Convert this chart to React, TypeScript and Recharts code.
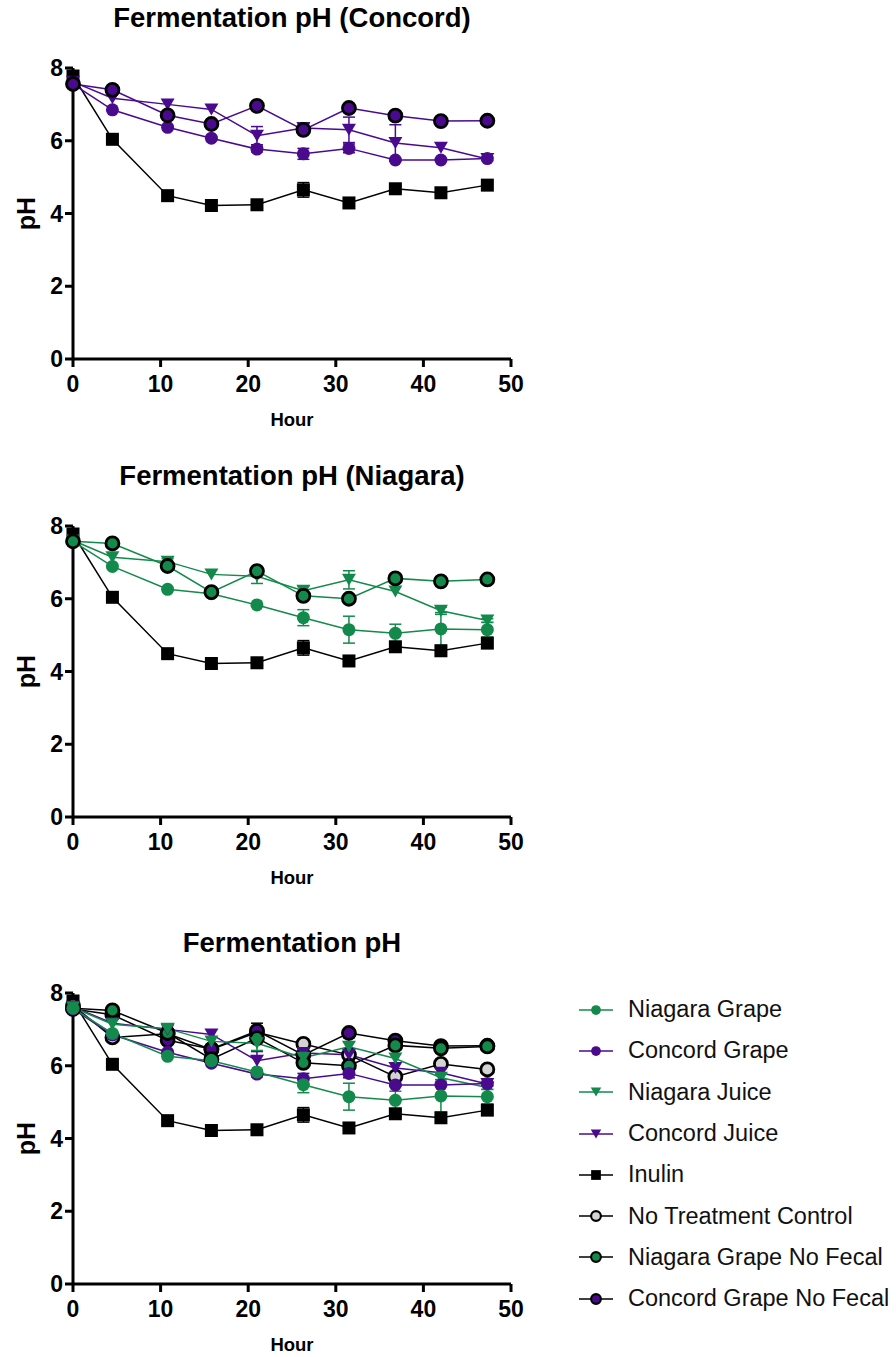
import React from "react";
import { LineChart, Line, XAxis, YAxis, ErrorBar, Legend } from "recharts";

// sampling times (hours)
const hours = [0, 4.5, 10.8, 15.8, 21, 26.3, 31.5, 36.8, 42, 47.3];

const niagaraGrape = [7.58, 6.89, 6.26, 6.14, 5.83, 5.48, 5.15, 5.05, 5.17, 5.15];
const niagaraGrapeErr = [0, 0, 0, 0, 0, 0.22, 0.37, 0.25, 0.45, 0.2];
const concordGrape = [7.56, 6.85, 6.37, 6.07, 5.77, 5.64, 5.79, 5.47, 5.47, 5.51];
const concordGrapeErr = [0, 0, 0, 0, 0.08, 0.15, 0.12, 0, 0, 0];
const niagaraJuice = [7.6, 7.14, 7.02, 6.67, 6.62, 6.22, 6.52, 6.2, 5.67, 5.4];
const niagaraJuiceErr = [0, 0, 0.08, 0, 0.2, 0.12, 0.25, 0, 0.1, 0.05];
const concordJuice = [7.62, 7.17, 7.0, 6.86, 6.14, 6.35, 6.3, 5.94, 5.81, 5.5];
const concordJuiceErr = [0, 0, 0, 0, 0.25, 0.12, 0.35, 0.5, 0, 0.05];
const inulin = [7.78, 6.04, 4.49, 4.22, 4.24, 4.65, 4.29, 4.68, 4.57, 4.78];
const inulinErr = [0, 0, 0, 0, 0.06, 0.2, 0, 0.08, 0, 0];
const noTreatment = [7.66, 6.78, 6.88, 6.45, 6.92, 6.6, 6.3, 5.7, 6.05, 5.9];
const noTreatmentErr = [0, 0, 0, 0, 0.25, 0, 0, 0, 0, 0];
const niagaraNoFecal = [7.58, 7.52, 6.9, 6.18, 6.76, 6.08, 6.0, 6.56, 6.48, 6.53];
const concordNoFecal = [7.56, 7.4, 6.7, 6.46, 6.96, 6.3, 6.9, 6.69, 6.54, 6.55];

const xTicks = [0, 10, 20, 30, 40, 50];
const yTicks = [0, 2, 4, 6, 8];

const GREEN = "#138a4b";
const PURPLE = "#4a0a8e";
const FONT = "'Liberation Sans', Arial, sans-serif";

type Marker = "circle" | "ringed" | "grey" | "square" | "triangle";

type Series = {
  key: string;
  name: string;
  values: number[];
  errors?: number[];
  color: string;
  fill: string;
  marker: Marker;
  blackLineInAll?: boolean;
};

const SERIES: Series[] = [
  { key: "ng", name: "Niagara Grape", values: niagaraGrape, errors: niagaraGrapeErr, color: GREEN, fill: GREEN, marker: "circle" },
  { key: "cg", name: "Concord Grape", values: concordGrape, errors: concordGrapeErr, color: PURPLE, fill: PURPLE, marker: "circle" },
  { key: "nj", name: "Niagara Juice", values: niagaraJuice, errors: niagaraJuiceErr, color: GREEN, fill: GREEN, marker: "triangle" },
  { key: "cj", name: "Concord Juice", values: concordJuice, errors: concordJuiceErr, color: PURPLE, fill: PURPLE, marker: "triangle" },
  { key: "in", name: "Inulin", values: inulin, errors: inulinErr, color: "#000", fill: "#000", marker: "square" },
  { key: "nt", name: "No Treatment Control", values: noTreatment, errors: noTreatmentErr, color: "#000", fill: "#d4d4d4", marker: "grey" },
  { key: "nnf", name: "Niagara Grape No Fecal", values: niagaraNoFecal, color: GREEN, fill: GREEN, marker: "ringed", blackLineInAll: true },
  { key: "cnf", name: "Concord Grape No Fecal", values: concordNoFecal, color: PURPLE, fill: PURPLE, marker: "ringed", blackLineInAll: true },
];

const rows = hours.map((h, i) => {
  const r: Record<string, number> = { hour: h };
  SERIES.forEach((s) => {
    r[s.key] = s.values[i];
    if (s.errors) {
      r[s.key + "Err"] = s.errors[i];
    }
  });
  return r;
});

function MarkerShape({ cx, cy, marker, fill, scale = 1 }: { cx: number; cy: number; marker: Marker; fill: string; scale?: number }) {
  if (cx == null || cy == null) {
    return null;
  }
  if (marker === "square") {
    const s = 13 * scale;
    return <rect x={cx - s / 2} y={cy - s / 2} width={s} height={s} fill="#000" />;
  }
  if (marker === "triangle") {
    const w = 14 * scale;
    const h = 12 * scale;
    return (
      <polygon
        points={`${cx - w / 2},${cy - h / 2} ${cx + w / 2},${cy - h / 2} ${cx},${cy + h / 2}`}
        fill={fill}
      />
    );
  }
  if (marker === "circle") {
    return <circle cx={cx} cy={cy} r={6.5 * scale} fill={fill} />;
  }
  return <circle cx={cx} cy={cy} r={6.5 * scale} fill={fill} stroke="#000" strokeWidth={2.8 * scale} />;
}

const axisStroke = { stroke: "#000", strokeWidth: 3 };
const tickStyle = { fill: "#000", fontSize: 23, fontWeight: 700, fontFamily: FONT };

function LegendList() {
  return (
    <div style={{ fontFamily: FONT }}>
      {SERIES.map((s) => (
        <div key={s.key} style={{ display: "flex", alignItems: "center", height: 41.3 }}>
          <svg width={36} height={20} style={{ marginRight: 14 }}>
            <line x1={1} y1={10} x2={35} y2={10} stroke={s.blackLineInAll ? "#000" : s.color} strokeWidth={1.5} />
            <MarkerShape cx={18} cy={10} marker={s.marker} fill={s.fill} scale={0.75} />
          </svg>
          <span style={{ fontSize: 23.5, color: "#111" }}>{s.name}</span>
        </div>
      ))}
    </div>
  );
}

function PhChart({ title, keys, top, allMode }: { title: string; keys: string[]; top: number; allMode?: boolean }) {
  const list = keys.map((k) => SERIES.find((s) => s.key === k)!);
  return (
    <div style={{ position: "absolute", left: 0, top, width: allMode ? 896 : 540, height: 432 }}>
      <div
        style={{
          position: "absolute",
          left: 0,
          width: 584,
          top: 2,
          textAlign: "center",
          fontFamily: FONT,
          fontWeight: 700,
          fontSize: 27.5,
          color: "#000",
        }}
      >
        {title}
      </div>
      <LineChart
        width={allMode ? 896 : 540}
        height={432}
        data={rows}
        margin={{ top: 68, right: allMode ? 385 : 29, bottom: 33, left: 0 }}
      >
        <XAxis
          type="number"
          dataKey="hour"
          domain={[0, 50]}
          ticks={xTicks}
          axisLine={axisStroke}
          tickLine={axisStroke}
          tickSize={8}
          tickMargin={9}
          tick={tickStyle}
          height={40}
          label={{
            value: "Hour",
            position: "bottom",
            offset: 14,
            style: { fill: "#000", fontSize: 18.5, fontWeight: 700, fontFamily: FONT },
          }}
        />
        <YAxis
          type="number"
          domain={[0, 8]}
          ticks={yTicks}
          axisLine={axisStroke}
          tickLine={axisStroke}
          tickSize={8}
          tick={tickStyle}
          width={73}
          label={{
            value: "pH",
            angle: -90,
            position: "insideLeft",
            offset: 26,
            style: { fill: "#000", fontSize: 25, fontWeight: 700, fontFamily: FONT, textAnchor: "middle" },
          }}
        />
        {list.map((s) => (
          <Line
            key={s.key}
            type="linear"
            dataKey={s.key}
            name={s.name}
            stroke={allMode && s.blackLineInAll ? "#000" : s.color}
            strokeWidth={1.5}
            isAnimationActive={false}
            activeDot={false}
            dot={(p: any) => (
              <MarkerShape key={`${s.key}-${p.index}`} cx={p.cx} cy={p.cy} marker={s.marker} fill={s.fill} />
            )}
          >
            {s.errors ? (
              <ErrorBar dataKey={s.key + "Err"} width={6} stroke={s.color} strokeWidth={1.5} />
            ) : null}
          </Line>
        ))}
        {allMode ? (
          <Legend
            layout="vertical"
            align="center"
            verticalAlign="middle"
            content={() => <LegendList />}
            wrapperStyle={{ left: 578, top: 64, width: 318 }}
          />
        ) : null}
      </LineChart>
    </div>
  );
}

export default function App() {
  return (
    <div style={{ position: "absolute", left: 0, top: 0, width: 896, height: 1357, background: "#fff" }}>
      <PhChart title="Fermentation pH (Concord)" keys={["in", "cg", "cj", "cnf"]} top={0} />
      <PhChart title="Fermentation pH (Niagara)" keys={["in", "ng", "nj", "nnf"]} top={458} />
      <PhChart
        title="Fermentation pH"
        keys={["in", "nt", "cnf", "nnf", "cj", "nj", "cg", "ng"]}
        top={925}
        allMode
      />
    </div>
  );
}
